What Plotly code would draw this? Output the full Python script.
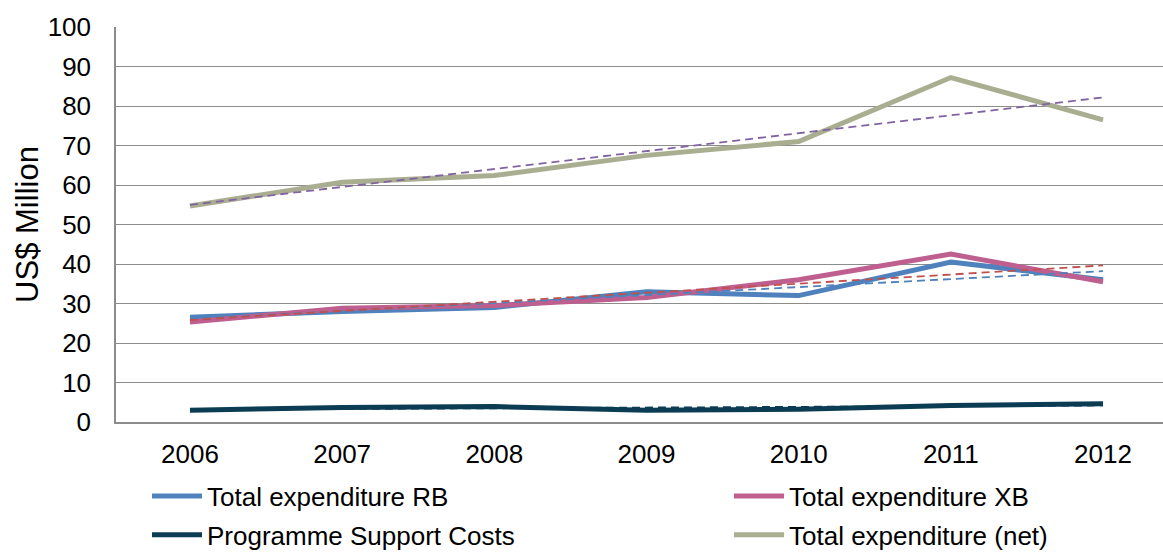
import numpy as np
import plotly.graph_objects as go

years = ["2006", "2007", "2008", "2009", "2010", "2011", "2012"]
rb = [26.5, 28.0, 29.0, 33.0, 32.0, 40.5, 36.0]
xb = [25.3, 28.8, 29.5, 31.5, 36.0, 42.5, 35.5]
psc = [3.0, 3.7, 3.9, 3.0, 3.2, 4.2, 4.6]
net = [54.7, 60.7, 62.4, 67.5, 71.0, 87.2, 76.5]

x = list(range(len(years)))

series = [
    ("Total expenditure RB", rb, "#4F81BD", "#4F81BD", "legend"),
    ("Total expenditure XB", xb, "#BE5F8F", "#C0504D", "legend2"),
    ("Programme Support Costs", psc, "#0B3C53", "#0B3C53", "legend"),
    ("Total expenditure (net)", net, "#A9AE91", "#8064A2", "legend2"),
]

fig = go.Figure()

for name, vals, col, tcol, lg in series:
    fig.add_trace(go.Scatter(x=x, y=vals, mode="lines", name=name, legend=lg,
                             legendgroup=name,
                             line=dict(color=col, width=5)))

# linear trendlines (least squares, like Excel)
for name, vals, col, tcol, lg in series:
    k, b = np.polyfit(x, vals, 1)
    trend = [k * xi + b for xi in x]
    fig.add_trace(go.Scatter(x=x, y=trend, mode="lines", showlegend=False,
                             line=dict(color=tcol, width=1.8, dash="8px,5px"),
                             hoverinfo="skip"))

legend_common = dict(orientation="v", xanchor="left", yanchor="top",
                     font=dict(size=26), itemwidth=50, tracegroupgap=2,
                     bgcolor="rgba(0,0,0,0)")
fig.update_layout(
    width=1163, height=556,
    margin=dict(l=116, r=0, t=27, b=134, autoexpand=False),
    paper_bgcolor="white", plot_bgcolor="white",
    font=dict(family="Liberation Sans, Arial", size=26, color="black"),
    showlegend=True,
    legend=dict(x=0.0296, y=-0.128, **legend_common),
    legend2=dict(x=0.5855, y=-0.128, **legend_common),
)
fig.update_xaxes(range=[-0.486, 6.394], tickvals=x, ticktext=years,
                 showgrid=False, showline=True, linecolor="#8C8C8C", linewidth=1.5,
                 ticks="", ticklabelstandoff=8, zeroline=False, automargin=False)
fig.update_yaxes(range=[0, 100], dtick=10, showgrid=True, gridcolor="#8C8C8C",
                 gridwidth=1.3, showline=True, linecolor="#8C8C8C", linewidth=1.5,
                 ticks="", ticklabelstandoff=18, zeroline=False, automargin=False,
                 title=dict(text="US$ Million", standoff=0))

fig.write_html("out.html", config={"displayModeBar": False},
               post_script="document.body.style.margin='0';document.body.style.overflow='hidden';")
